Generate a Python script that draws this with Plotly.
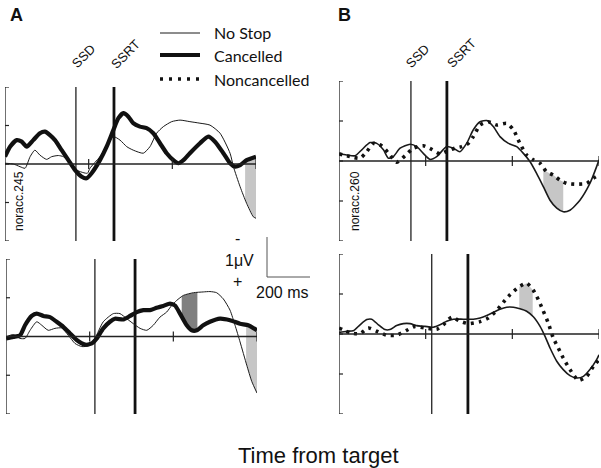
import numpy as np
import plotly.graph_objects as go

# ---------------- data (time in ms from target, voltage in microvolts; negative plotted up) -------------
a1_ns_t = [0, 40, 72, 96, 120, 143, 167, 199, 223, 255, 279, 311, 343, 394, 406, 454, 518, 550, 582, 613,
           661, 693, 725, 757, 797, 837, 884, 932, 980, 1028, 1076, 1092, 1124, 1155, 1187, 1200]
a1_ns_v = [-0.02, 0, 0.07, 0.11, -0.19, -0.36, -0.23, -0.12, -0.19, -0.22, -0.19, -0.02, 0.16, 0.24, 0.11,
           -0.19, -0.71, -0.62, -0.45, -0.36, -0.28, -0.45, -0.8, -0.97, -1.1, -1.14, -1.1, -1.06, -1.01,
           -0.8, -0.28, 0.07, 0.59, 1.02, 1.37, 1.41]
a1_c_t = [0, 24, 56, 80, 104, 135, 167, 191, 215, 239, 271, 303, 335, 367, 390, 414, 454, 486, 518, 542,
          566, 590, 613, 645, 677, 709, 741, 773, 805, 829, 853, 884, 932, 972, 1004, 1044, 1076, 1100,
          1124, 1155, 1200]
a1_c_v = [-0.19, -0.45, -0.62, -0.58, -0.45, -0.62, -0.8, -0.84, -0.75, -0.62, -0.36, -0.1, 0.16, 0.33,
          0.37, 0.24, -0.1, -0.45, -0.88, -1.19, -1.32, -1.23, -1.06, -0.97, -0.93, -0.8, -0.54, -0.28,
          -0.1, -0.02, -0.1, -0.28, -0.54, -0.71, -0.58, -0.28, -0.02, 0.07, 0.03, -0.1, -0.19]

a2_ns_t = [0, 35, 67, 91, 115, 147, 171, 202, 234, 266, 298, 330, 362, 394, 425, 465, 513, 545, 577, 609,
           641, 673, 704, 736, 768, 792, 816, 848, 896, 943, 975, 1007, 1039, 1071, 1095, 1119, 1151,
           1175, 1200]
a2_ns_v = [0.01, -0.05, 0.05, 0.05, -0.16, -0.38, -0.29, -0.16, -0.21, -0.22, -0.03, 0.18, 0.26, 0.24,
           0.05, -0.38, -0.59, -0.59, -0.46, -0.33, -0.21, -0.16, -0.29, -0.5, -0.63, -0.8, -0.93, -1.06,
           -1.13, -1.15, -1.16, -1.13, -0.97, -0.68, -0.29, 0.14, 0.74, 1.16, 1.46]
a2_c_t = [0, 35, 67, 91, 123, 147, 179, 210, 242, 274, 306, 338, 378, 410, 434, 465, 497, 521, 561, 593,
          625, 657, 688, 720, 752, 784, 808, 832, 864, 888, 912, 943, 975, 1023, 1071, 1119, 1158, 1200]
a2_c_v = [0.05, 0.01, -0.03, -0.29, -0.53, -0.59, -0.53, -0.5, -0.38, -0.25, -0.08, 0.09, 0.21, 0.18,
          0.05, -0.21, -0.38, -0.46, -0.44, -0.53, -0.63, -0.68, -0.68, -0.74, -0.79, -0.85, -0.8, -0.59,
          -0.29, -0.16, -0.16, -0.29, -0.38, -0.46, -0.42, -0.33, -0.29, -0.16]

b1_ns_t = [0, 35, 74, 105, 143, 174, 205, 228, 251, 282, 328, 359, 389, 420, 451, 497, 528, 558, 589, 620,
           651, 682, 712, 743, 782, 820, 851, 882, 912, 943, 974, 1005, 1035, 1066, 1112, 1158, 1189, 1200]
b1_ns_v = [-0.18, -0.15, -0.13, -0.28, -0.46, -0.44, -0.28, -0.07, -0.11, -0.32, -0.42, -0.36, -0.19,
           -0.04, -0.11, -0.36, -0.32, -0.23, -0.44, -0.78, -0.98, -1.01, -0.86, -0.61, -0.44, -0.36,
           -0.19, 0.02, 0.31, 0.64, 0.98, 1.18, 1.27, 1.23, 0.98, 0.56, 0.14, -0.03]
b1_nc_t = [0, 51, 97, 128, 158, 197, 235, 266, 305, 343, 389, 428, 466, 505, 535, 566, 597, 620, 651, 689,
           728, 774, 805, 835, 866, 897, 928, 958, 989, 1020, 1051, 1097, 1143, 1174, 1200]
b1_nc_v = [-0.18, -0.11, -0.07, -0.23, -0.44, -0.38, -0.15, 0.03, -0.13, -0.32, -0.38, -0.29, -0.18,
           -0.26, -0.32, -0.36, -0.44, -0.61, -0.9, -0.98, -0.9, -0.94, -0.78, -0.44, -0.15, -0.03, 0.06,
           0.27, 0.35, 0.48, 0.56, 0.58, 0.56, 0.43, 0.35]

b2_ns_t = [0, 35, 66, 97, 128, 151, 182, 212, 235, 266, 297, 328, 359, 397, 435, 466, 497, 528, 574, 620,
           651, 682, 712, 743, 774, 805, 835, 866, 897, 928, 951, 974, 1005, 1035, 1066, 1097, 1128, 1158,
           1189, 1200]
b2_ns_v = [-0.04, -0.07, -0.08, -0.23, -0.36, -0.37, -0.23, -0.11, -0.11, -0.21, -0.26, -0.26, -0.21,
           -0.19, -0.17, -0.23, -0.32, -0.37, -0.37, -0.37, -0.4, -0.46, -0.54, -0.62, -0.67, -0.67, -0.63,
           -0.57, -0.43, -0.19, 0.06, 0.35, 0.68, 0.89, 1.04, 1.1, 1.06, 0.89, 0.64, 0.52]
b2_nc_t = [0, 51, 97, 135, 174, 220, 266, 312, 351, 397, 451, 481, 520, 558, 597, 651, 689, 728, 758, 789,
           828, 866, 897, 920, 940, 966, 989, 1012, 1035, 1066, 1105, 1143, 1174, 1200]
b2_nc_v = [-0.15, -0.03, -0.01, -0.15, -0.07, 0.03, 0.03, -0.09, -0.19, -0.15, -0.12, -0.23, -0.42, -0.32,
           -0.26, -0.31, -0.4, -0.59, -0.79, -0.98, -1.17, -1.27, -1.09, -0.86, -0.61, -0.27, 0.1, 0.35,
           0.6, 0.89, 1.16, 1.06, 0.81, 0.64]

ssd_ms = [339, 425, 332, 428]          # A-top, A-bottom, B-top, B-bottom
ssrt_ms = [521, 617, 498, 595]
channel_labels = ["noracc.245", "noracc.260"]
shade_light = [[(1148, 1200)], [(1148, 1200)], [(943, 1035)], [(832, 894)]]
shade_dark = [[], [(840, 915)], [], []]
x_ticks = [0, 400, 800, 1200]
y_ticks = [-2, -1, 0, 1, 2]
legend_names = ["No Stop", "Cancelled", "Noncancelled"]

# ---------------- layout helpers ----------------
W, H = 601, 468
def px(x): return x / W
def py(y): return 1 - y / H

# pixel boxes of each panel: (x_left, x_right, y_top, y_bottom)
boxes = [(5, 256, 87, 241), (6, 257, 259, 414), (339, 599, 81, 241), (339, 599, 254, 414)]

panels = [
    [("ns", a1_ns_t, a1_ns_v), ("c", a1_c_t, a1_c_v)],
    [("ns", a2_ns_t, a2_ns_v), ("c", a2_c_t, a2_c_v)],
    [("ns", b1_ns_t, b1_ns_v), ("nc", b1_nc_t, b1_nc_v)],
    [("ns", b2_ns_t, b2_ns_v), ("nc", b2_nc_t, b2_nc_v)],
]

styles = {
    "ns": dict(color="#1a1a1a", width=1.0),
    "c": dict(color="#111111", width=4.2),
    "nc": dict(color="#111111", width=3.6, dash="3px,5px"),
}
b_ns_style = dict(color="#1a1a1a", width=1.6)

fig = go.Figure()
shapes = []
annotations = []
layout_axes = {}

for i, (box, series) in enumerate(zip(boxes, panels)):
    n = i + 1
    xa = "x" if n == 1 else f"x{n}"
    ya = "y" if n == 1 else f"y{n}"
    xl, xr, yt, yb = box
    layout_axes["xaxis" if n == 1 else f"xaxis{n}"] = dict(
        domain=[px(xl), px(xr)], range=[0, 1200], visible=False, anchor=ya, fixedrange=True)
    layout_axes["yaxis" if n == 1 else f"yaxis{n}"] = dict(
        domain=[py(yb), py(yt)], range=[2, -2], visible=False, anchor=xa, fixedrange=True)

    (k1, t1, v1), (k2, t2, v2) = series

    # shaded difference regions
    for windows, col in ((shade_light[i], "#c6c6c6"), (shade_dark[i], "#7f7f7f")):
        for (a, b) in windows:
            grid = sorted(set([a, b] + [t for t in t1 + t2 if a < t < b]))
            up = np.interp(grid, t2, v2)
            lo = np.interp(grid, t1, v1)
            fig.add_trace(go.Scatter(
                x=list(grid) + list(grid[::-1]), y=list(up) + list(lo[::-1]),
                mode="lines", fill="toself", fillcolor=col, line=dict(width=0),
                hoverinfo="skip", showlegend=False, xaxis=xa, yaxis=ya))

    # axes (drawn as lines through the subplot's own scales)
    ax_col = "#222222"
    shapes.append(dict(type="line", xref=xa, yref=ya, x0=0, x1=0, y0=-2, y1=2,
                       line=dict(color=ax_col, width=1.3)))
    shapes.append(dict(type="line", xref=xa, yref=ya, x0=0, x1=1200, y0=0, y1=0,
                       line=dict(color=ax_col, width=1.3)))
    for v in y_ticks:
        shapes.append(dict(type="line", xref=xa, yref=ya, xsizemode="pixel", xanchor=0,
                           x0=-4, x1=4, y0=v, y1=v, line=dict(color=ax_col, width=1.2)))
    for t in x_ticks[1:]:
        shapes.append(dict(type="line", xref=xa, yref=ya, ysizemode="pixel", yanchor=0,
                           y0=-5, y1=5, x0=t, x1=t, line=dict(color=ax_col, width=1.2)))

    # SSD / SSRT markers
    fig.add_trace(go.Scatter(x=[ssd_ms[i], ssd_ms[i]], y=[-2, 2], mode="lines",
                             line=dict(color="#222222", width=1.3), hoverinfo="skip",
                             showlegend=False, xaxis=xa, yaxis=ya))
    fig.add_trace(go.Scatter(x=[ssrt_ms[i], ssrt_ms[i]], y=[-2, 2], mode="lines",
                             line=dict(color="#111111", width=2.8), hoverinfo="skip",
                             showlegend=False, xaxis=xa, yaxis=ya))

    # traces
    for k, t, v in series:
        st = dict(styles[k])
        if k == "ns" and i >= 2:
            st = dict(b_ns_style)
        fig.add_trace(go.Scatter(x=t, y=v, mode="lines", line=dict(shape="spline", smoothing=0.6, **st),
                                 hoverinfo="skip", showlegend=False, xaxis=xa, yaxis=ya))

# ---------------- text ----------------
font = "Liberation Sans"
def ann(text, x, y, size, angle=0, anchor="center", color="#111111", fam=font):
    annotations.append(dict(text=text, x=px(x), y=py(y), xref="paper", yref="paper",
                            showarrow=False, textangle=angle, xanchor=anchor, yanchor="middle",
                            font=dict(family=fam, size=size, color=color)))

ann("<b>A</b>", 16, 15, 18)
ann("<b>B</b>", 344, 15, 18)
ann("SSD", 83, 56, 13, angle=-45)
ann("SSRT", 125, 54, 13, angle=-45)
ann("SSD", 417, 56, 13, angle=-45)
ann("SSRT", 461, 53, 13, angle=-45)
ann(channel_labels[0], 19, 201, 12, angle=-90)
ann(channel_labels[1], 355, 201, 12, angle=-90)
ann("-", 237, 238, 16)
ann("1\u03bcV", 239, 260, 16)
ann("+", 237, 281, 16)
ann("200 ms", 282, 292, 16)
ann("Time from target", 318, 455, 22)

# scale bar
shapes.append(dict(type="line", xref="paper", yref="paper", x0=px(267), x1=px(267), y0=py(237), y1=py(277),
                   line=dict(color="#555555", width=1)))
shapes.append(dict(type="line", xref="paper", yref="paper", x0=px(267), x1=px(310), y0=py(277), y1=py(277),
                   line=dict(color="#555555", width=1)))

# legend
leg_y = [33, 55, 79]
leg_styles = [styles["ns"], dict(color="#111111", width=4.2), dict(color="#111111", width=3.6, dash="3px,6px")]
for name, yy, st in zip(legend_names, leg_y, leg_styles):
    shapes.append(dict(type="line", xref="paper", yref="paper", x0=px(160), x1=px(200), y0=py(yy), y1=py(yy),
                       line=st))
    ann(name, 212, yy, 16, anchor="left", fam="Lato")

fig.update_layout(
    width=W, height=H, margin=dict(l=0, r=0, t=0, b=0),
    paper_bgcolor="white", plot_bgcolor="white", showlegend=False,
    shapes=shapes, annotations=annotations, **layout_axes)

fig.write_html("out.html", config={"displayModeBar": False},
               post_script="document.body.style.margin='0px';")
